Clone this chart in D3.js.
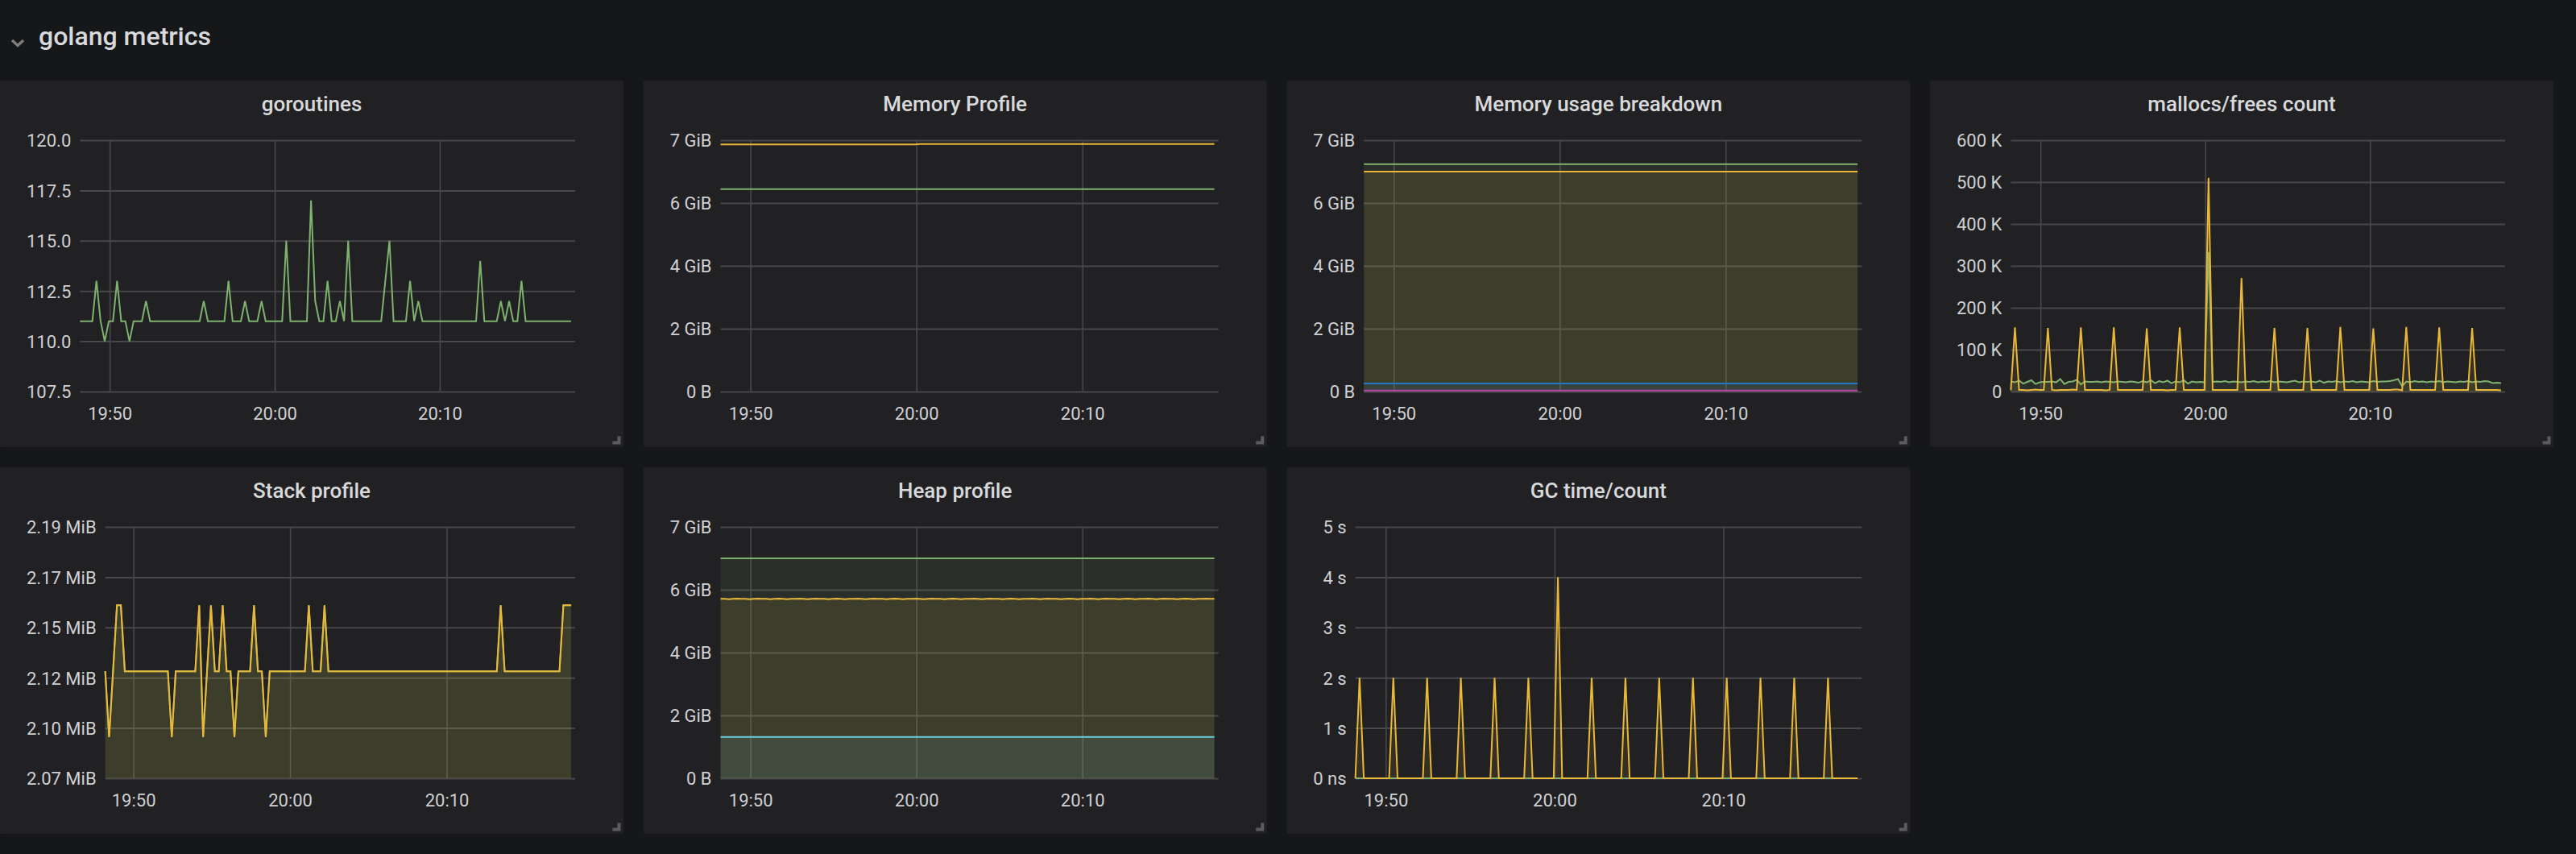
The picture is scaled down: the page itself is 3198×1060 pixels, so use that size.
<!DOCTYPE html>
<html><head><meta charset="utf-8">
<script src="https://cdn.jsdelivr.net/npm/d3@7"></script>
<style>
html,body{margin:0;padding:0;background:#161719;overflow:hidden;}
svg{display:block;font-family:Roboto,"Noto Sans",sans-serif;}
</style></head><body>
<svg id="c" width="3198" height="1060"></svg>
<script>
// ---------- time axis ----------
const startTime = "19:48:12";
const stepSeconds = 15;
const sampleCount = 120;
const rangeMinutes = 30;
const timeTicks = ["19:50", "20:00", "20:10"];

// ---------- goroutines ----------
const goroutines = [
111,111,111,111,113,111,110,111,111,113,
111,111,110,111,111,111,112,111,111,111,
111,111,111,111,111,111,111,111,111,111,
112,111,111,111,111,111,113,111,111,111,
112,111,111,111,112,111,111,111,111,111,
115,111,111,111,111,111,117,112,111,111,
113,111,111,112,111,115,111,111,111,111,
111,111,111,111,113,115,111,111,111,111,
113,111,112,111,111,111,111,111,111,111,
111,111,111,111,111,111,111,114,111,111,
111,111,112,111,112,111,111,113,111,111,
111,111,111,111,111,111,111,111,111,111];
const goroutinesTicks = [107.5, 110, 112.5, 115, 117.5, 120];

// ---------- Memory Profile (GB = 1e9 bytes) ----------
const memProfileGreen = [
6.44,6.44,6.44,6.44,6.44,6.44,6.44,6.44,6.44,6.44,6.44,6.44,
6.44,6.44,6.44,6.44,6.44,6.44,6.44,6.44,6.44,6.44,6.44,6.44,
6.44,6.44,6.44,6.44,6.44,6.44,6.44,6.44,6.44,6.44,6.44,6.44,
6.44,6.44,6.44,6.44,6.44,6.44,6.44,6.44,6.44,6.44,6.44,6.44,
6.44,6.44,6.44,6.44,6.44,6.44,6.44,6.44,6.44,6.44,6.44,6.44,
6.44,6.44,6.44,6.44,6.44,6.44,6.44,6.44,6.44,6.44,6.44,6.44,
6.44,6.44,6.44,6.44,6.44,6.44,6.44,6.44,6.44,6.44,6.44,6.44,
6.44,6.44,6.44,6.44,6.44,6.44,6.44,6.44,6.44,6.44,6.44,6.44,
6.44,6.44,6.44,6.44,6.44,6.44,6.44,6.44,6.44,6.44,6.44,6.44,
6.44,6.44,6.44,6.44,6.44,6.44,6.44,6.44,6.44,6.44,6.44,6.44];
const memProfileYellow = [
7.863,7.863,7.863,7.863,7.863,7.863,7.863,7.863,7.863,7.863,7.863,7.863,
7.863,7.863,7.863,7.863,7.863,7.863,7.863,7.863,7.863,7.863,7.863,7.863,
7.863,7.863,7.863,7.863,7.863,7.863,7.863,7.863,7.863,7.863,7.863,7.863,
7.863,7.863,7.863,7.863,7.863,7.863,7.863,7.863,7.863,7.863,7.863,7.863,
7.880,7.880,7.880,7.880,7.880,7.880,7.880,7.880,7.880,7.880,7.880,7.880,
7.880,7.880,7.880,7.880,7.880,7.880,7.880,7.880,7.880,7.880,7.880,7.880,
7.880,7.880,7.880,7.880,7.880,7.880,7.880,7.880,7.880,7.880,7.880,7.880,
7.880,7.880,7.880,7.880,7.880,7.880,7.880,7.880,7.880,7.880,7.880,7.880,
7.880,7.880,7.880,7.880,7.880,7.880,7.880,7.880,7.880,7.880,7.880,7.880,
7.880,7.880,7.880,7.880,7.880,7.880,7.880,7.880,7.880,7.880,7.880,7.880];
const gbTicks = [0, 2, 4, 6, 8];

// ---------- Memory usage breakdown (GB) ----------
const usageGreen = [
7.24,7.24,7.24,7.24,7.24,7.24,7.24,7.24,7.24,7.24,7.24,7.24,
7.24,7.24,7.24,7.24,7.24,7.24,7.24,7.24,7.24,7.24,7.24,7.24,
7.24,7.24,7.24,7.24,7.24,7.24,7.24,7.24,7.24,7.24,7.24,7.24,
7.24,7.24,7.24,7.24,7.24,7.24,7.24,7.24,7.24,7.24,7.24,7.24,
7.24,7.24,7.24,7.24,7.24,7.24,7.24,7.24,7.24,7.24,7.24,7.24,
7.24,7.24,7.24,7.24,7.24,7.24,7.24,7.24,7.24,7.24,7.24,7.24,
7.24,7.24,7.24,7.24,7.24,7.24,7.24,7.24,7.24,7.24,7.24,7.24,
7.24,7.24,7.24,7.24,7.24,7.24,7.24,7.24,7.24,7.24,7.24,7.24,
7.24,7.24,7.24,7.24,7.24,7.24,7.24,7.24,7.24,7.24,7.24,7.24,
7.24,7.24,7.24,7.24,7.24,7.24,7.24,7.24,7.24,7.24,7.24,7.24];
const usageYellow = [
7.00,7.00,7.00,7.00,7.00,7.00,7.00,7.00,7.00,7.00,7.00,7.00,
7.00,7.00,7.00,7.00,7.00,7.00,7.00,7.00,7.00,7.00,7.00,7.00,
7.00,7.00,7.00,7.00,7.00,7.00,7.00,7.00,7.00,7.00,7.00,7.00,
7.00,7.00,7.00,7.00,7.00,7.00,7.00,7.00,7.00,7.00,7.00,7.00,
7.00,7.00,7.00,7.00,7.00,7.00,7.00,7.00,7.00,7.00,7.00,7.00,
7.00,7.00,7.00,7.00,7.00,7.00,7.00,7.00,7.00,7.00,7.00,7.00,
7.00,7.00,7.00,7.00,7.00,7.00,7.00,7.00,7.00,7.00,7.00,7.00,
7.00,7.00,7.00,7.00,7.00,7.00,7.00,7.00,7.00,7.00,7.00,7.00,
7.00,7.00,7.00,7.00,7.00,7.00,7.00,7.00,7.00,7.00,7.00,7.00,
7.00,7.00,7.00,7.00,7.00,7.00,7.00,7.00,7.00,7.00,7.00,7.00];
const usageBlue = [
0.256,0.256,0.256,0.256,0.256,0.256,0.256,0.256,0.256,0.256,0.256,0.256,
0.256,0.256,0.256,0.256,0.256,0.256,0.256,0.256,0.256,0.256,0.256,0.256,
0.256,0.256,0.256,0.256,0.256,0.256,0.256,0.256,0.256,0.256,0.256,0.256,
0.256,0.256,0.256,0.256,0.256,0.256,0.256,0.256,0.256,0.256,0.256,0.256,
0.256,0.256,0.256,0.256,0.256,0.256,0.256,0.256,0.256,0.256,0.256,0.256,
0.256,0.256,0.256,0.256,0.256,0.256,0.256,0.256,0.256,0.256,0.256,0.256,
0.256,0.256,0.256,0.256,0.256,0.256,0.256,0.256,0.256,0.256,0.256,0.256,
0.256,0.256,0.256,0.256,0.256,0.256,0.256,0.256,0.256,0.256,0.256,0.256,
0.256,0.256,0.256,0.256,0.256,0.256,0.256,0.256,0.256,0.256,0.256,0.256,
0.256,0.256,0.256,0.256,0.256,0.256,0.256,0.256,0.256,0.256,0.256,0.256];
const usageMagenta = [
0.034,0.034,0.034,0.034,0.034,0.034,0.034,0.034,0.034,0.034,0.034,0.034,
0.034,0.034,0.034,0.034,0.034,0.034,0.034,0.034,0.034,0.034,0.034,0.034,
0.034,0.034,0.034,0.034,0.034,0.034,0.034,0.034,0.034,0.034,0.034,0.034,
0.034,0.034,0.034,0.034,0.034,0.034,0.034,0.034,0.034,0.034,0.034,0.034,
0.034,0.034,0.034,0.034,0.034,0.034,0.034,0.034,0.034,0.034,0.034,0.034,
0.034,0.034,0.034,0.034,0.034,0.034,0.034,0.034,0.034,0.034,0.034,0.034,
0.034,0.034,0.034,0.034,0.034,0.034,0.034,0.034,0.034,0.034,0.034,0.034,
0.034,0.034,0.034,0.034,0.034,0.034,0.034,0.034,0.034,0.034,0.034,0.034,
0.034,0.034,0.034,0.034,0.034,0.034,0.034,0.034,0.034,0.034,0.034,0.034,
0.034,0.034,0.034,0.034,0.034,0.034,0.034,0.034,0.034,0.034,0.034,0.034];

// ---------- mallocs/frees count (thousands) ----------
const mallocsGreen = [
24,22,26,19,23,27,18,22,23,23,
24,22,30,18,23,24,28,17,24,23,
23,24,22,24,23,22,24,23,22,24,
23,21,25,22,27,20,25,22,26,20,
24,22,27,19,24,22,23,22,333,23,
24,23,25,22,24,23,22,24,23,25,
22,24,23,25,22,24,23,22,24,26,
22,24,23,24,22,26,21,24,23,25,
22,24,23,25,22,24,23,22,25,23,
24,24,25,27,30,13,24,22,25,23,
24,22,24,23,25,22,24,23,22,24,
23,25,22,24,23,25,24,20,21,20];
const mallocsYellow = [
3,153,4,4,3,4,5,4,4,152,
4,3,4,4,4,5,4,153,4,4,
4,4,4,3,4,153,4,4,4,4,
4,4,4,151,4,4,4,4,3,4,
4,153,4,4,4,4,4,4,510,4,
4,4,4,4,4,4,271,4,4,4,
4,4,4,4,152,4,4,4,4,4,
4,4,152,4,4,4,4,4,4,4,
154,4,4,4,4,4,4,4,151,4,
4,4,4,5,5,3,154,4,4,4,
4,4,4,4,153,4,4,4,4,4,
4,4,152,4,4,4,4,4,4,3];
const mallocsTicks = [0, 100, 200, 300, 400, 500, 600];

// ---------- Stack profile (KiB): sys (green, hidden under) and inuse (yellow) ----------
const stackSysKiB = [
2176,2144,2176,2208,2208,2176,2176,2176,2176,2176,
2176,2176,2176,2176,2176,2176,2176,2144,2176,2176,
2176,2176,2176,2176,2208,2144,2176,2208,2176,2176,
2208,2176,2176,2144,2176,2176,2176,2176,2208,2176,
2176,2144,2176,2176,2176,2176,2176,2176,2176,2176,
2176,2176,2208,2176,2176,2176,2208,2176,2176,2176,
2176,2176,2176,2176,2176,2176,2176,2176,2176,2176,
2176,2176,2176,2176,2176,2176,2176,2176,2176,2176,
2176,2176,2176,2176,2176,2176,2176,2176,2176,2176,
2176,2176,2176,2176,2176,2176,2176,2176,2176,2176,
2176,2208,2176,2176,2176,2176,2176,2176,2176,2176,
2176,2176,2176,2176,2176,2176,2176,2208,2208,2208];
const stackInuseKiB = [
2176,2144,2176,2208,2208,2176,2176,2176,2176,2176,
2176,2176,2176,2176,2176,2176,2176,2144,2176,2176,
2176,2176,2176,2176,2208,2144,2176,2208,2176,2176,
2208,2176,2176,2144,2176,2176,2176,2176,2208,2176,
2176,2144,2176,2176,2176,2176,2176,2176,2176,2176,
2176,2176,2208,2176,2176,2176,2208,2176,2176,2176,
2176,2176,2176,2176,2176,2176,2176,2176,2176,2176,
2176,2176,2176,2176,2176,2176,2176,2176,2176,2176,
2176,2176,2176,2176,2176,2176,2176,2176,2176,2176,
2176,2176,2176,2176,2176,2176,2176,2176,2176,2176,
2176,2208,2176,2176,2176,2176,2176,2176,2176,2176,
2176,2176,2176,2176,2176,2176,2176,2208,2208,2208];
const stackTicksBytes = [2175000, 2200000, 2225000, 2250000, 2275000, 2300000];

// ---------- Heap profile (GB) ----------
const heapGreen = [
7.00,7.00,7.00,7.00,7.00,7.00,7.00,7.00,7.00,7.00,7.00,7.00,
7.00,7.00,7.00,7.00,7.00,7.00,7.00,7.00,7.00,7.00,7.00,7.00,
7.00,7.00,7.00,7.00,7.00,7.00,7.00,7.00,7.00,7.00,7.00,7.00,
7.00,7.00,7.00,7.00,7.00,7.00,7.00,7.00,7.00,7.00,7.00,7.00,
7.00,7.00,7.00,7.00,7.00,7.00,7.00,7.00,7.00,7.00,7.00,7.00,
7.00,7.00,7.00,7.00,7.00,7.00,7.00,7.00,7.00,7.00,7.00,7.00,
7.00,7.00,7.00,7.00,7.00,7.00,7.00,7.00,7.00,7.00,7.00,7.00,
7.00,7.00,7.00,7.00,7.00,7.00,7.00,7.00,7.00,7.00,7.00,7.00,
7.00,7.00,7.00,7.00,7.00,7.00,7.00,7.00,7.00,7.00,7.00,7.00,
7.00,7.00,7.00,7.00,7.00,7.00,7.00,7.00,7.00,7.00,7.00,7.00];
const heapYellow = [
5.71,5.71,5.70,5.71,5.72,5.71,5.71,5.70,5.71,5.72,5.71,5.71,
5.70,5.71,5.72,5.71,5.70,5.71,5.71,5.72,5.71,5.70,5.71,5.72,
5.71,5.71,5.70,5.71,5.72,5.71,5.70,5.71,5.71,5.72,5.71,5.70,
5.71,5.72,5.71,5.71,5.70,5.71,5.72,5.71,5.70,5.71,5.71,5.72,
5.71,5.70,5.71,5.72,5.71,5.71,5.70,5.71,5.72,5.71,5.70,5.71,
5.71,5.72,5.71,5.70,5.71,5.72,5.71,5.71,5.70,5.71,5.72,5.71,
5.70,5.71,5.71,5.72,5.71,5.70,5.71,5.72,5.71,5.71,5.70,5.71,
5.72,5.71,5.70,5.71,5.71,5.72,5.71,5.70,5.71,5.72,5.71,5.71,
5.70,5.71,5.72,5.71,5.70,5.71,5.71,5.72,5.71,5.70,5.71,5.72,
5.71,5.71,5.70,5.71,5.72,5.71,5.70,5.71,5.71,5.72,5.71,5.71];
const heapCyan = [
1.316,1.316,1.316,1.316,1.316,1.316,1.316,1.316,1.316,1.316,1.316,1.316,
1.316,1.316,1.316,1.316,1.316,1.316,1.316,1.316,1.316,1.316,1.316,1.316,
1.316,1.316,1.316,1.316,1.316,1.316,1.316,1.316,1.316,1.316,1.316,1.316,
1.316,1.316,1.316,1.316,1.316,1.316,1.316,1.316,1.316,1.316,1.316,1.316,
1.316,1.316,1.316,1.316,1.316,1.316,1.316,1.316,1.316,1.316,1.316,1.316,
1.316,1.316,1.316,1.316,1.316,1.316,1.316,1.316,1.316,1.316,1.316,1.316,
1.316,1.316,1.316,1.316,1.316,1.316,1.316,1.316,1.316,1.316,1.316,1.316,
1.316,1.316,1.316,1.316,1.316,1.316,1.316,1.316,1.316,1.316,1.316,1.316,
1.316,1.316,1.316,1.316,1.316,1.316,1.316,1.316,1.316,1.316,1.316,1.316,
1.316,1.316,1.316,1.316,1.316,1.316,1.316,1.316,1.316,1.316,1.316,1.316];

// ---------- GC time/count (seconds) ----------
const gcGreen = [
0,0,0,0,0,0,0,0,0,0,0,0,0,0,0,0,0,0,0,0,
0,0,0,0,0,0,0,0,0,0,0,0,0,0,0,0,0,0,0,0,
0,0,0,0,0,0,0,0,0,0,0,0,0,0,0,0,0,0,0,0,
0,0,0,0,0,0,0,0,0,0,0,0,0,0,0,0,0,0,0,0,
0,0,0,0,0,0,0,0,0,0,0,0,0,0,0,0,0,0,0,0,
0,0,0,0,0,0,0,0,0,0,0,0,0,0,0,0,0,0,0,0];
const gcYellow = [
0,2,0,0,0,0,0,0,0,2,
0,0,0,0,0,0,0,2,0,0,
0,0,0,0,0,2,0,0,0,0,
0,0,0,2,0,0,0,0,0,0,
0,2,0,0,0,0,0,0,4,0,
0,0,0,0,0,0,2,0,0,0,
0,0,0,0,2,0,0,0,0,0,
0,0,2,0,0,0,0,0,0,0,
2,0,0,0,0,0,0,0,2,0,
0,0,0,0,0,0,2,0,0,0,
0,0,0,0,2,0,0,0,0,0,
0,0,2,0,0,0,0,0,0,0];
const gcTicks = [0, 1, 2, 3, 4, 5];

// ---------- colors ----------
const GREEN = "#7EB26D", YELLOW = "#EAB839", CYAN = "#6ED0E0", BLUE = "#1F78C1", MAGENTA = "#BA43A9";

// ---------- build ----------
const parseHM = d3.timeParse("%H:%M:%S");
const t0 = parseHM(startTime);
const t1 = new Date(t0.getTime() + rangeMinutes * 60000);
const times = d3.range(sampleCount).map(i => new Date(t0.getTime() + i * stepSeconds * 1000));
const tickDates = timeTicks.map(s => parseHM(s + ":00"));

const gibFmt = v => v === 0 ? "0 B" : Math.round(v * 1e9 / 1073741824) + " GiB";

const panels = [
  {title: "goroutines", col: 0, row: 0, domain: [107.5, 120], ticks: goroutinesTicks,
   fmt: d => d.toFixed(1), fill: false, series: [{v: goroutines, c: GREEN}]},
  {title: "Memory Profile", col: 1, row: 0, domain: [0, 8], ticks: gbTicks, fmt: gibFmt, fill: false,
   series: [{v: memProfileGreen, c: GREEN}, {v: memProfileYellow, c: YELLOW}]},
  {title: "Memory usage breakdown", col: 2, row: 0, domain: [0, 8], ticks: gbTicks, fmt: gibFmt, fill: true,
   series: [{v: usageGreen, c: GREEN}, {v: usageYellow, c: YELLOW}, {v: usageBlue, c: BLUE}, {v: usageMagenta, c: MAGENTA}]},
  {title: "mallocs/frees count", col: 3, row: 0, domain: [0, 600], ticks: mallocsTicks,
   fmt: d => d === 0 ? "0" : d + " K", fill: true,
   series: [{v: mallocsGreen, c: GREEN}, {v: mallocsYellow, c: YELLOW}]},
  {title: "Stack profile", col: 0, row: 1, domain: [2175000 / 1024, 2300000 / 1024],
   ticks: stackTicksBytes.map(b => b / 1024), fmt: d => (d * 1024 / 1048576).toFixed(2) + " MiB", fill: true,
   series: [{v: stackSysKiB, c: GREEN}, {v: stackInuseKiB, c: YELLOW}]},
  {title: "Heap profile", col: 1, row: 1, domain: [0, 8], ticks: gbTicks, fmt: gibFmt, fill: true,
   series: [{v: heapGreen, c: GREEN}, {v: heapYellow, c: YELLOW}, {v: heapCyan, c: CYAN}]},
  {title: "GC time/count", col: 2, row: 1, domain: [0, 5], ticks: gcTicks,
   fmt: d => d === 0 ? "0 ns" : d + " s", fill: true,
   series: [{v: gcGreen, c: GREEN}, {v: gcYellow, c: YELLOW}]}
];

const svg = d3.select("#c");
svg.append("rect").attr("width", 3198).attr("height", 1060).attr("fill", "#161719");

// row header
svg.append("path").attr("d", "M15,50 L22,56.5 L29,50").attr("fill", "none")
  .attr("stroke", "#7f7f80").attr("stroke-width", 3.4).attr("stroke-linecap", "butt");
svg.append("text").attr("x", 48).attr("y", 56).attr("font-size", 32).attr("font-weight", 500)
  .attr("fill", "#d8d9da").text("golang metrics");

const PANEL_W = 774, PANEL_H = 455;
const colX = [0, 798.7, 1597.3, 2396];
const rowY = [100, 580];
const GRID = "#48484b", TICK_TXT = "#cfd0d2";

panels.forEach(p => {
  const g = svg.append("g").attr("transform", `translate(${colX[p.col]},${rowY[p.row]})`);
  g.append("rect").attr("width", PANEL_W).attr("height", PANEL_H).attr("rx", 3).attr("fill", "#212124");
  g.append("text").attr("x", PANEL_W / 2).attr("y", 37.5).attr("text-anchor", "middle")
    .attr("font-size", 26).attr("font-weight", 500).attr("fill", "#d8d9da").text(p.title);

  // measure y labels
  const tmp = g.append("g").attr("font-size", 22);
  let maxW = 0;
  p.ticks.forEach(t => {
    const n = tmp.append("text").text(p.fmt(t)).node();
    maxW = Math.max(maxW, n.getComputedTextLength());
  });
  tmp.remove();

  const left = 33 + maxW + 11, right = PANEL_W - 60, top = 74, bottom = 386;
  const x = d3.scaleTime().domain([t0, t1]).range([left, right]);
  const y = d3.scaleLinear().domain(p.domain).range([bottom, top]).clamp(true);

  // y grid + labels
  const ya = g.append("g").attr("transform", `translate(${left},0)`)
    .call(d3.axisLeft(y).tickValues(p.ticks).tickFormat(p.fmt).tickSize(-(right - left)).tickPadding(11));
  ya.select(".domain").remove();
  ya.selectAll("line").attr("stroke", GRID).attr("stroke-width", 2);
  ya.selectAll("text").attr("font-size", 22).attr("font-family", "Roboto").attr("fill", TICK_TXT).attr("dy", "0.36em");

  // x grid + labels
  const xa = g.append("g").attr("transform", `translate(0,${bottom})`)
    .call(d3.axisBottom(x).tickValues(tickDates).tickFormat(d3.timeFormat("%H:%M")).tickSize(-(bottom - top)).tickPadding(19));
  xa.select(".domain").remove();
  xa.selectAll("line").attr("stroke", GRID).attr("stroke-width", 1.6);
  xa.selectAll("text").attr("font-size", 22).attr("font-family", "Roboto").attr("fill", TICK_TXT);

  // series
  p.series.forEach(s => {
    const pts = s.v.map((v, i) => [times[i], v]);
    if (p.fill) {
      g.append("path").datum(pts)
        .attr("d", d3.area().x(d => x(d[0])).y0(y(0)).y1(d => y(d[1])))
        .attr("fill", s.c).attr("fill-opacity", 0.1);
    }
    g.append("path").datum(pts)
      .attr("d", d3.line().x(d => x(d[0])).y(d => y(d[1])))
      .attr("fill", "none").attr("stroke", s.c).attr("stroke-width", 2);
  });

  // resize handle
  const rx = PANEL_W - 3.5, by = PANEL_H - 3.5;
  g.append("path").attr("d", `M${rx - 4},${by - 10} h4 v10 h-10 v-4 h6 z`).attr("fill", "#5c5c5e");
});
</script>
</body></html>
